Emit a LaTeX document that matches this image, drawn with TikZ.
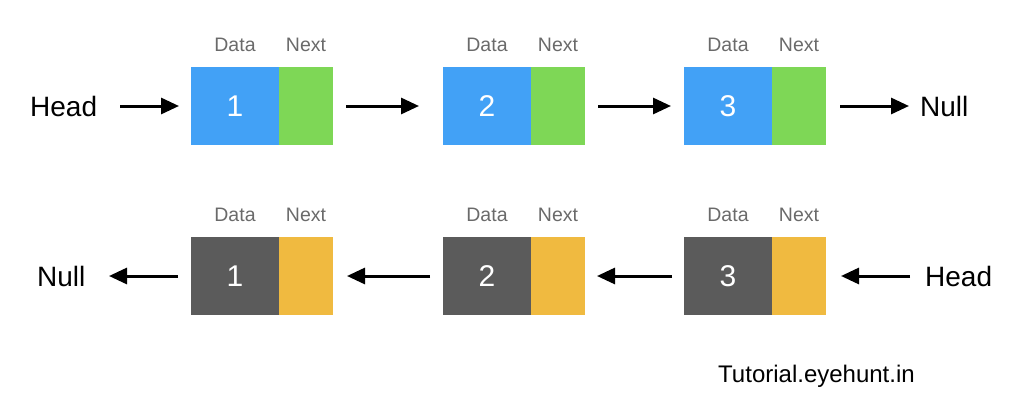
\documentclass[tikz,border=0pt]{standalone}
\usepackage{fontspec}
\setmainfont{Liberation Sans}
\usetikzlibrary{arrows.meta}
\definecolor{dblue}{HTML}{42A1F6}
\definecolor{dgreen}{HTML}{7ED756}
\definecolor{dgray}{HTML}{5B5B5B}
\definecolor{dyellow}{HTML}{F0BA40}
\definecolor{lbl}{HTML}{6A6A6A}
\tikzset{
  databox/.style={minimum width=88pt,minimum height=78pt,inner sep=0pt,outer sep=0pt,text=white,font=\fontsize{30}{32}\selectfont},
  nextbox/.style={minimum width=54pt,minimum height=78pt,inner sep=0pt,outer sep=0pt},
  lab/.style={text=lbl,font=\fontsize{19.5}{22}\selectfont,inner sep=0pt},
  big/.style={font=\fontsize{28}{32}\selectfont,inner sep=0pt},
  arr/.style={line width=3pt,-{Triangle[length=18pt,width=16pt]}}
}
\begin{document}
\begin{tikzpicture}[x=1pt,y=-1pt]
\useasboundingbox (0,0) rectangle (1024,412);
% rows of nodes
\foreach \i/\x/\n in {1/191/1,2/443/2,3/684/3}{
  \node[databox,fill=dblue,anchor=north west] (td\i) at (\x,67) {\n};
  \node[nextbox,fill=dgreen,anchor=north west] (tn\i) at (td\i.north east) {};
  \node[lab] (tdl\i) at ([yshift=22pt]td\i.north) {Data};
  \node[lab] (tnl\i) at ([yshift=22pt]tn\i.north) {Next};
  \node[databox,fill=dgray,anchor=north west] (bd\i) at (\x,237) {\n};
  \node[nextbox,fill=dyellow,anchor=north west] (bn\i) at (bd\i.north east) {};
  \node[lab] (bdl\i) at ([yshift=22pt]bd\i.north) {Data};
  \node[lab] (bnl\i) at ([yshift=22pt]bn\i.north) {Next};
}
\node[big,anchor=west] (head1) at (30,106) {Head};
\node[big,anchor=west] (null1) at (920,106) {Null};
\node[big,anchor=west] (null2) at (37,276) {Null};
\node[big,anchor=west] (head2) at (925,276) {Head};
\node[big,font=\fontsize{24}{28}\selectfont,anchor=west] (site) at (718,376) {Tutorial.eyehunt.in};
% top arrows
\coordinate (a1s) at (120,106); \coordinate (a1e) at (179,106);
\coordinate (a2s) at (346,106); \coordinate (a2e) at (419,106);
\coordinate (a3s) at (598,106); \coordinate (a3e) at (671,106);
\coordinate (a4s) at (840,106); \coordinate (a4e) at (909,106);
\draw[arr] (a1s) -- (a1e);
\draw[arr] (a2s) -- (a2e);
\draw[arr] (a3s) -- (a3e);
\draw[arr] (a4s) -- (a4e);
% bottom arrows
\coordinate (b1s) at (178,276); \coordinate (b1e) at (109,276);
\coordinate (b2s) at (430,276); \coordinate (b2e) at (347,276);
\coordinate (b3s) at (672,276); \coordinate (b3e) at (597,276);
\coordinate (b4s) at (910,276); \coordinate (b4e) at (841,276);
\draw[arr] (b1s) -- (b1e);
\draw[arr] (b2s) -- (b2e);
\draw[arr] (b3s) -- (b3e);
\draw[arr] (b4s) -- (b4e);
\end{tikzpicture}
\end{document}
